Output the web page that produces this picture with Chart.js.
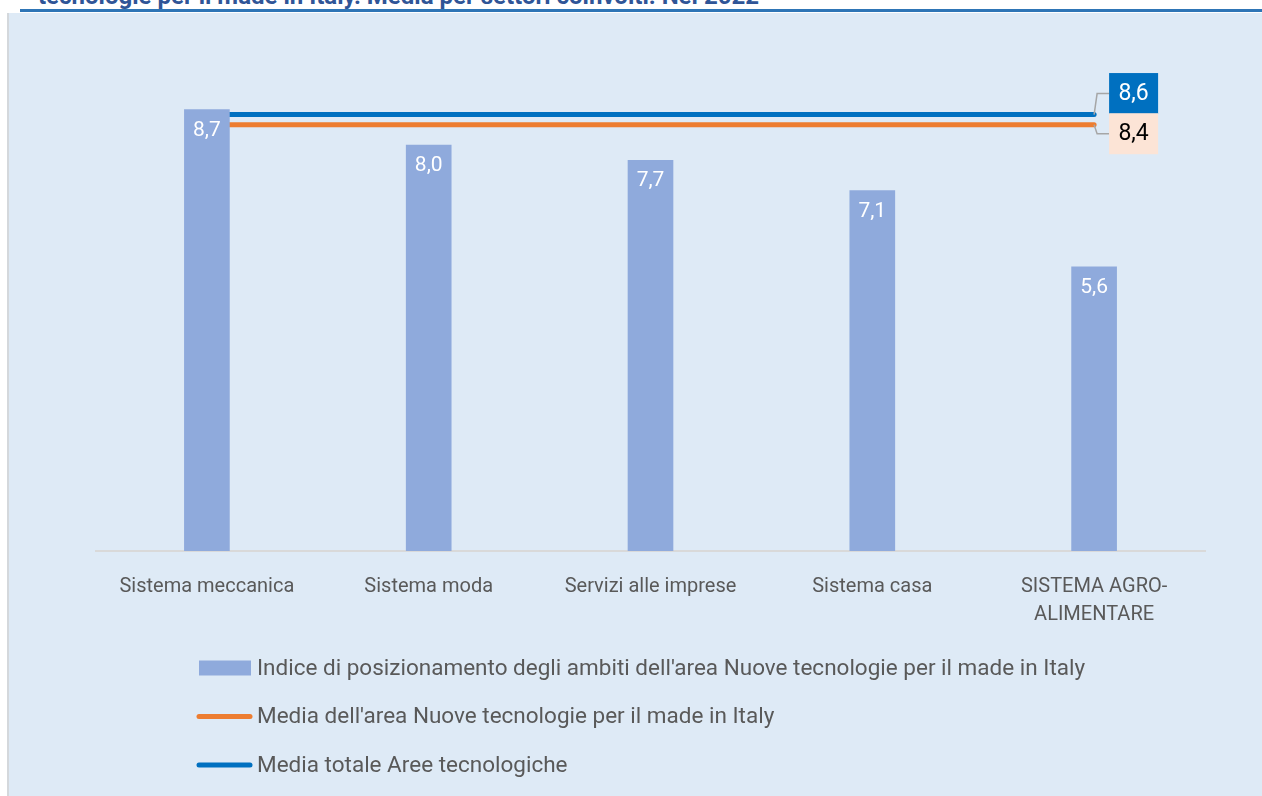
<!DOCTYPE html>
<html lang="it">
<head>
<meta charset="utf-8">
<script src="https://cdn.jsdelivr.net/npm/chart.js@4.4.1/dist/chart.umd.min.js"></script>
<style>
    body { margin: 0; width: 1262px; height: 796px; background: #fff; position: relative; overflow: hidden; }
    #titolo { position: absolute; left: 38px; top: -16px; font: bold 24px Roboto, sans-serif; line-height: 24px; color: #2F5597; white-space: nowrap; }
    #riga { position: absolute; left: 20px; top: 9px; width: 1242px; height: 3px; background: #2E75B6; }
    #pannello { position: absolute; left: 7px; top: 13px; right: 0; bottom: 0; background: #DEEAF6; border-left: 2px solid #D4D8DC; }
    #grafico { position: absolute; left: 0; top: 0; }
</style>
</head>
<body>
<div id="titolo">tecnologie per il made in Italy. Media per settori coinvolti. Nel 2022</div>
<div id="riga"></div>
<div id="pannello"></div>
<canvas id="grafico" width="1262" height="796"></canvas>
<script>
// dati
const categorie = ['Sistema meccanica', 'Sistema moda', 'Servizi alle imprese', 'Sistema casa', ['SISTEMA AGRO-', 'ALIMENTARE']];
const valoriIndice = [8.7, 8.0, 7.7, 7.1, 5.6];
const mediaArea = [8.4, 8.4, 8.4, 8.4, 8.4];
const mediaTotale = [8.6, 8.6, 8.6, 8.6, 8.6];
const nomiSerie = [
    "Indice di posizionamento degli ambiti dell'area Nuove tecnologie per il made in Italy",
    "Media dell'area Nuove tecnologie per il made in Italy",
    "Media totale Aree tecnologiche"
];

const FONT = 'Roboto, sans-serif';
const BLU_BARRE = '#8FAADC';
const ARANCIO = '#ED7D31';
const BLU = '#0070C0';

function formatta(v) {
    return v.toFixed(1).replace('.', ',');
}

// etichette sulle barre e sulle due linee di media
const pluginEtichette = {
    id: 'etichette',
    afterDatasetsDraw(chart) {
        const ctx = chart.ctx;
        ctx.save();

        ctx.font = '21px ' + FONT;
        ctx.fillStyle = '#fff';
        ctx.textAlign = 'center';
        ctx.textBaseline = 'middle';
        chart.getDatasetMeta(0).data.forEach((barra, i) => {
            ctx.fillText(formatta(valoriIndice[i]), barra.x, barra.y + 21);
        });

        const finali = [
            { ds: 2, valori: mediaTotale, dy: -21, sfondo: BLU, testo: '#fff' },
            { ds: 1, valori: mediaArea, dy: 9, sfondo: '#FCE4D6', testo: '#000' }
        ];
        finali.forEach(f => {
            const punti = chart.getDatasetMeta(f.ds).data;
            const p = punti[punti.length - 1];
            const cy = p.y + f.dy;
            ctx.strokeStyle = '#A6A6A6';
            ctx.lineWidth = 1.5;
            ctx.beginPath();
            ctx.moveTo(p.x, p.y);
            ctx.lineTo(p.x + 3, cy);
            ctx.lineTo(p.x + 15, cy);
            ctx.stroke();
            ctx.fillStyle = f.sfondo;
            ctx.fillRect(p.x + 15, cy - 20.5, 49, 41);
            ctx.fillStyle = f.testo;
            ctx.font = '23px ' + FONT;
            ctx.fillText(formatta(f.valori[f.valori.length - 1]), p.x + 39.5, cy + 1);
        });
        ctx.restore();
    }
};

// legenda su tre righe
const pluginLegenda = {
    id: 'legendaRighe',
    afterDraw(chart) {
        const ctx = chart.ctx;
        const area = chart.chartArea;
        const x0 = 197;
        ctx.save();
        ctx.font = '22.5px ' + FONT;
        ctx.textBaseline = 'middle';
        ctx.textAlign = 'left';
        chart.data.datasets.forEach((ds, i) => {
            const y = area.bottom + 117 + i * 48.5;
            if (ds.type === 'bar') {
                ctx.fillStyle = ds.backgroundColor;
                ctx.fillRect(x0 + 2, y - 7.5, 52, 15);
            } else {
                ctx.strokeStyle = ds.borderColor;
                ctx.lineWidth = 5;
                ctx.lineCap = 'round';
                ctx.beginPath();
                ctx.moveTo(x0 + 2, y);
                ctx.lineTo(x0 + 53, y);
                ctx.stroke();
            }
            ctx.fillStyle = '#595959';
            ctx.fillText(ds.label, x0 + 60, y + 1);
        });
        ctx.restore();
    }
};

Chart.defaults.font.family = FONT;

new Chart(document.getElementById('grafico'), {
    data: {
        labels: categorie,
        datasets: [{
            type: 'bar',
            label: nomiSerie[0],
            data: valoriIndice,
            backgroundColor: BLU_BARRE,
            barThickness: 45,
            order: 0
        }, {
            type: 'line',
            label: nomiSerie[1],
            data: mediaArea,
            borderColor: ARANCIO,
            borderWidth: 5,
            borderCapStyle: 'round',
            pointRadius: 0,
            order: 1
        }, {
            type: 'line',
            label: nomiSerie[2],
            data: mediaTotale,
            borderColor: BLU,
            borderWidth: 5,
            borderCapStyle: 'round',
            pointRadius: 0,
            order: 2
        }]
    },
    options: {
        responsive: false,
        animation: false,
        layout: {
            padding: { left: 96, right: 57, top: 43.5, bottom: 160 }
        },
        scales: {
            x: {
                grid: { display: false, drawTicks: false },
                border: { display: true, color: '#D9D9D9', width: 2 },
                ticks: {
                    color: '#595959',
                    font: { size: 20, lineHeight: 1.4 },
                    padding: 22,
                    maxRotation: 0
                },
                afterFit: (scale) => { scale.height = 85; }
            },
            y: {
                display: false,
                min: 0,
                max: 10
            }
        },
        plugins: {
            legend: { display: false },
            tooltip: { enabled: false }
        }
    },
    plugins: [pluginEtichette, pluginLegenda]
});
</script>
</body>
</html>
